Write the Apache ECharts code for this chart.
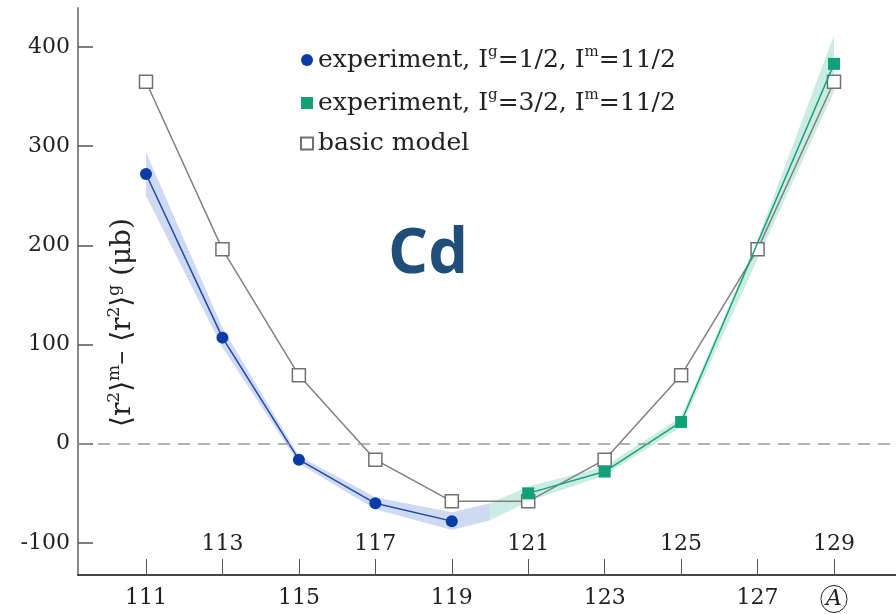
<!DOCTYPE html>
<html>
<head>
<meta charset="utf-8">
<script src="https://cdn.jsdelivr.net/npm/echarts@6/dist/echarts.min.js"></script>
<style>html,body{margin:0;padding:0;background:#fff}#c{width:896px;height:614px}</style>
</head>
<body>
<div id="c"></div>
<script>
// ---- data ----
const blueX = [111, 113, 115, 117, 119];
const blueY = [272, 107, -16, -60, -78];
const greenX = [121, 123, 125, 129];
const greenY = [-50, -28, 22, 383];
const modelX = [111, 113, 115, 117, 119, 121, 123, 125, 127, 129];
const modelY = [365, 196, 69, -16, -58, -58, -16, 69, 196, 365];
const blueBandX = [111, 113, 115, 117, 119, 120];
const blueBandLow = [250, 97, -20, -66, -87, -77];
const blueBandHigh = [294, 117, -12, -54, -69, -60];
const greenBandX = [120, 121, 123, 125, 127, 129];
const greenBandLow = [-77, -58, -32, 17, 186, 355];
const greenBandHigh = [-60, -43, -23, 27, 206, 412];
const xTicks = [111, 113, 115, 117, 119, 121, 123, 125, 127, 129];
const xLabelsLow = [111, 115, 119, 123, 127, 129];
const xLabelsHigh = [113, 117, 121, 125, 129];
const yTicks = [-100, 0, 100, 200, 300, 400];

const zip = (a, b) => a.map((v, i) => [v, b[i]]);
const zip3 = (a, b, c) => a.map((v, i) => [v, b[i], c[i]]);

const serif = 'DejaVu Serif';
const names = {
  exp1: '{t|experiment, I}{s|g}{t|=1/2, I}{s|m}{t|=11/2}',
  exp2: '{t|experiment, I}{s|g}{t|=3/2, I}{s|m}{t|=11/2}',
  model: '{t|basic model}'
};

function bandSeries(xs, lo, hi, fill) {
  return {
    type: 'custom', silent: true, z: 1,
    data: zip3(xs, lo, hi),
    encode: { x: 0, y: [1, 2] },
    renderItem: (params, api) => {
      if (params.dataIndex !== 0) return null;
      const top = xs.map((x, i) => api.coord([x, hi[i]]));
      const bot = xs.map((x, i) => api.coord([x, lo[i]])).reverse();
      return { type: 'polygon', shape: { points: top.concat(bot) }, style: { fill: fill } };
    }
  };
}

const chart = echarts.init(document.getElementById('c'));
chart.setOption({
  animation: false,
  backgroundColor: '#fff',
  title: {
    text: 'Cd', left: 388, top: 224, padding: 0,
    textStyle: { fontFamily: 'Open Sans', fontWeight: 'bold', fontSize: 63, color: '#1f4e79' }
  },
  grid: { left: 78, top: 8, right: 0, bottom: 39, containLabel: false, outerBoundsMode: 'none' },
  legend: {
    orient: 'vertical', left: 300, top: 45, itemGap: 15.5,
    itemWidth: 12, itemHeight: 12, padding: 0,
    data: [
      { name: 'exp1', icon: 'circle' },
      { name: 'exp2', icon: 'rect' },
      { name: 'model', icon: 'rect' }
    ],
    formatter: n => names[n],
    textStyle: {
      rich: {
        t: { fontFamily: serif, fontSize: 25, color: '#222', lineHeight: 30 },
        s: { fontFamily: serif, fontSize: 15, color: '#222', verticalAlign: 'top', lineHeight: 15 }
      }
    }
  },
  xAxis: [{
    type: 'value', min: 109.221, max: 130.622, position: 'bottom',
    axisLine: { onZero: false, lineStyle: { color: '#444', width: 2 } },
    axisTick: { inside: true, length: 16, customValues: xTicks, lineStyle: { color: '#555', width: 1 } },
    axisLabel: {
      customValues: xLabelsLow, margin: 12,
      fontFamily: serif, fontSize: 22, color: '#222',
      formatter: v => v === 129 ? '{a|A}' : String(v),
      rich: {
        a: { fontFamily: serif, fontStyle: 'italic', fontSize: 22, lineHeight: 24, color: '#222',
             borderColor: '#222', borderWidth: 1, borderRadius: 15, padding: [3, 5, 2, 5] }
      }
    },
    splitLine: { show: false }
  }, {
    type: 'value', min: 109.221, max: 130.622, position: 'bottom',
    axisLine: { show: false, onZero: false }, axisTick: { show: false },
    axisLabel: { customValues: xLabelsHigh, inside: true, margin: 20, fontFamily: serif, fontSize: 22, color: '#222' },
    splitLine: { show: false }
  }],
  yAxis: {
    type: 'value', min: -132.3, max: 439.3,
    axisLine: { show: true, onZero: false, lineStyle: { color: '#888', width: 2 } },
    axisTick: { show: true, inside: true, length: 15, customValues: yTicks, lineStyle: { color: '#555', width: 1.5 } },
    axisLabel: { customValues: yTicks, margin: 8, fontFamily: serif, fontSize: 22, color: '#222' },
    splitLine: { show: false },
    name: '{t|⟨r}{s|2}{t|⟩}{s|m}{t|– ⟨r}{s|2}{t|⟩}{s|g}{t| (μb)}',
    nameLocation: 'middle', nameGap: -61,
    nameTextStyle: {
      padding: [0, 62, 0, 0],
      rich: {
        t: { fontFamily: serif, fontSize: 28, color: '#222', lineHeight: 33 },
        s: { fontFamily: serif, fontSize: 17, color: '#222', verticalAlign: 'top', lineHeight: 17 }
      }
    }
  },
  series: [
    bandSeries(blueBandX, blueBandLow, blueBandHigh, 'rgba(100,140,215,0.32)'),
    bandSeries(greenBandX, greenBandLow, greenBandHigh, 'rgba(70,185,150,0.28)'),
    { name: 'zero', type: 'line', data: [], z: 2,
      markLine: { silent: true, symbol: 'none', label: { show: false },
        lineStyle: { color: '#999', type: [12, 8], width: 1.5 }, data: [{ yAxis: 0 }] } },
    { name: 'model', type: 'line', data: zip(modelX, modelY), symbol: 'rect', symbolSize: 13,
      lineStyle: { color: '#808080', width: 1.5 },
      itemStyle: { color: '#fff', borderColor: '#707070', borderWidth: 1.5 }, z: 3 },
    { name: 'exp1', type: 'line', data: zip(blueX, blueY), symbol: 'circle', symbolSize: 12,
      lineStyle: { color: '#2346aa', width: 1.5 }, itemStyle: { color: '#0b3ca6' }, z: 4 },
    { name: 'exp2', type: 'line', data: zip(greenX, greenY), symbol: 'rect', symbolSize: 12,
      lineStyle: { color: '#17a27a', width: 1.5 }, itemStyle: { color: '#12a078' }, z: 4 }
  ]
});
</script>
</body>
</html>
